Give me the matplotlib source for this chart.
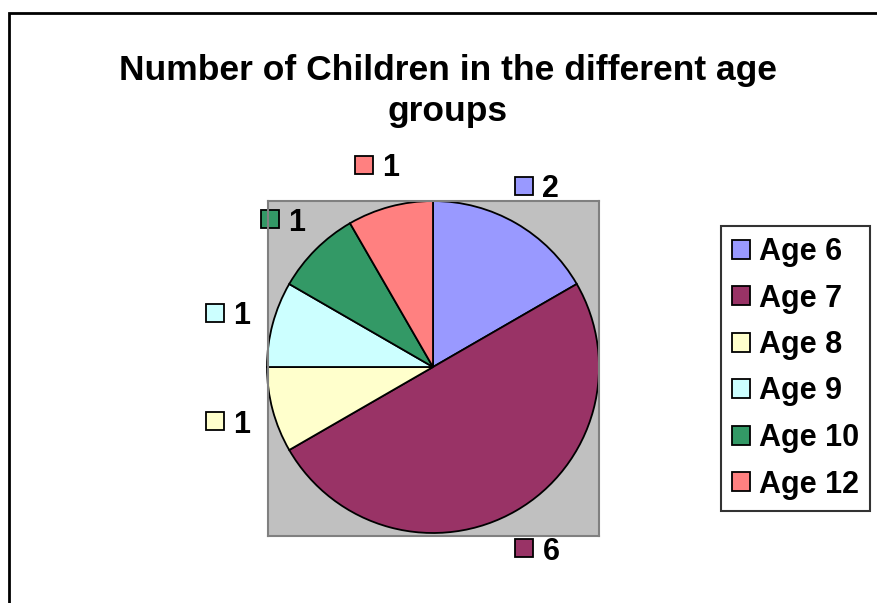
import numpy as np
import matplotlib
matplotlib.use("Agg")
import matplotlib.pyplot as plt
from matplotlib.patches import Rectangle

plt.rcParams['font.family'] = ['Liberation Sans', 'DejaVu Sans']

# ---- data ----
categories = ["Age 6", "Age 7", "Age 8", "Age 9", "Age 10", "Age 12"]
counts = [2, 6, 1, 1, 1, 1]
colors = ["#9999FF", "#993366", "#FFFFCC", "#CCFFFF", "#339966", "#FF8080"]
title = "Number of Children in the different age\ngroups"

W, H = 878, 603
fig = plt.figure(figsize=(W / 100, H / 100), dpi=100)

def fx(px):
    return px / W

def fy(py):
    return (H - py) / H

# outer chart frame (top and left edges visible)
fig.add_artist(Rectangle((fx(9), fy(700)), 1.0, fy(13) - fy(700),
                         transform=fig.transFigure, fill=False,
                         edgecolor="black", linewidth=2))

# plot area
L, R, T, B = 268, 599, 201, 536
cx, cy, rad = 433, 367, 166
ax = fig.add_axes([fx(L), fy(B), fx(R - L), fy(T) - fy(B)])
wedges, _ = ax.pie(counts, colors=colors, startangle=90, counterclock=False,
                   radius=1.0,
                   wedgeprops=dict(edgecolor="black", linewidth=1.3))
ax.set_aspect("auto")
ax.set_xlim(-(cx - L) / rad, (R - cx) / rad)
ax.set_ylim(-(B - cy) / rad, (cy - T) / rad)
ax.set_frame_on(True)
ax.set_facecolor("#C0C0C0")
for s in ax.spines.values():
    s.set_edgecolor("#808080")
    s.set_linewidth(1.5)
ax.set_xticks([])
ax.set_yticks([])

# data labels: coloured square + value
sq = 18 / rad
for w, val, col in zip(wedges, counts, colors):
    mid = np.deg2rad((w.theta1 + w.theta2) / 2)
    px_, py_ = 1.27 * np.cos(mid), 1.26 * np.sin(mid)
    ax.add_patch(Rectangle((px_ - 23 / rad, py_ - sq / 2), sq, sq,
                           facecolor=col, edgecolor="black", linewidth=1.3,
                           clip_on=False))
    ax.text(px_ + 4 / rad, py_, str(val), fontsize=22, fontweight="bold",
            ha="left", va="center_baseline", clip_on=False)

# title
fig.text(fx(448), fy(91), title, ha="center", va="center",
         fontsize=25.5, fontweight="bold", linespacing=1.28)

# legend
fs = 22
fs_px = fs * 100 / 72
leg = fig.legend(wedges, categories, loc="upper left",
                 bbox_to_anchor=(fx(721), fy(226)), borderaxespad=0,
                 prop=dict(size=fs, weight="bold"),
                 frameon=True, fancybox=False, shadow=False,
                 handlelength=18 / fs_px, handleheight=18 / fs_px,
                 handletextpad=9 / fs_px, borderpad=0.36, labelspacing=0.54)
leg.get_frame().set_edgecolor("black")
leg.get_frame().set_linewidth(1.5)

fig.savefig("out.png", dpi=100)
